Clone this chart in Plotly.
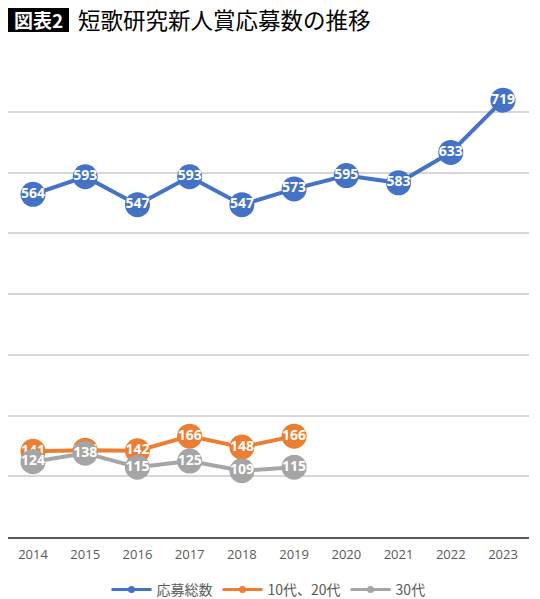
import plotly.graph_objects as go

years = ['2014', '2015', '2016', '2017', '2018', '2019', '2020', '2021', '2022', '2023']
total = [564, 593, 547, 593, 547, 573, 595, 583, 633, 719]
young = [141, 143, 142, 166, 148, 166]
thirties = [124, 138, 115, 125, 109, 115]

series = [
    ('応募総数', total, '#4472C4'),
    ('10代、20代', young, '#ED7D31'),
    ('30代', thirties, '#A5A5A5'),
]

# the page body adds 8px, so the figure is 532x591 and its plot area sits on
# screen x 8..529, y 51..537
PW, PH = 521, 486


def px(x):
    return (x - 8) / PW


def py(y):
    return (537 - y) / PH


fig = go.Figure()
for name, vals, color in series:
    fig.add_trace(go.Scatter(
        x=years[:len(vals)], y=vals, name=name, mode='lines+markers+text',
        line=dict(color=color, width=4),
        marker=dict(color=color, size=25),
        text=[str(v) for v in vals], textposition='middle center',
        textfont=dict(color='white', size=14, family='Open Sans', weight='bold'),
        cliponaxis=False, showlegend=False,
    ))
# legend entries with small markers
for name, vals, color in series:
    fig.add_trace(go.Scatter(
        x=[years[0]], y=[None], name=name, mode='lines+markers',
        line=dict(color=color, width=3), marker=dict(color=color, size=7),
    ))

fig.update_xaxes(type='category', range=[-0.479, 9.498], showgrid=False, automargin=False,
                 showline=True, linecolor='#595959', linewidth=1.5, ticks='',
                 ticklabelstandoff=5,
                 tickfont=dict(color='#595959', size=13, family='Open Sans'))
fig.update_yaxes(range=[0, 800], dtick=100, showgrid=True, gridcolor='#D6D6D6',
                 gridwidth=1.5, showticklabels=False, zeroline=False, showline=False,
                 ticks='', automargin=False)

fig.add_shape(type='rect', xref='paper', yref='paper', x0=px(8), x1=px(69),
              y0=py(32), y1=py(4), fillcolor='black', line_width=0, opacity=1)
fig.add_annotation(text='<b>図表2</b>', xref='paper', yref='paper',
                   x=px(38.5), y=py(19), xanchor='center', yanchor='middle', showarrow=False,
                   font=dict(color='white', size=19, family='Noto Sans CJK JP'))
fig.add_annotation(text='短歌研究新人賞応募数の推移', xref='paper', yref='paper',
                   x=px(76), y=py(19), xanchor='left', yanchor='middle', showarrow=False,
                   font=dict(color='black', size=22.5, family='Noto Sans CJK JP'))

fig.update_layout(
    width=532, height=591, template='none',
    margin=dict(l=0, r=11, t=43, b=62, autoexpand=False),
    plot_bgcolor='white', paper_bgcolor='white',
    legend=dict(orientation='h', x=0.5, xanchor='center', y=py(574), yanchor='top',
                font=dict(color='#595959', size=14, family='Noto Sans CJK JP'),
                itemwidth=40),
)
fig.write_html('out.html')
